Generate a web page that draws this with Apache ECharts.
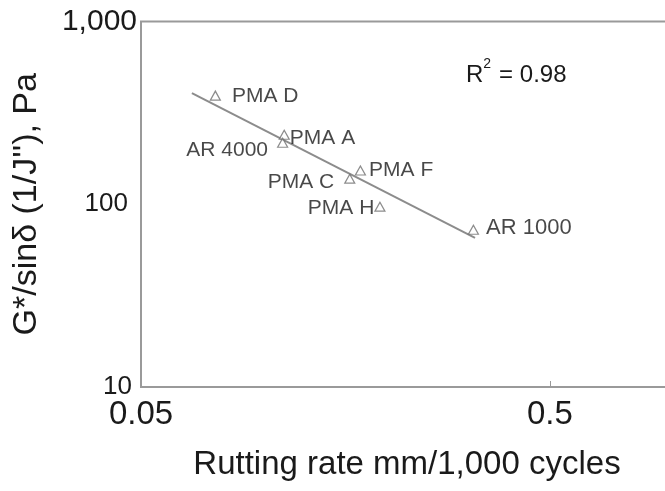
<!DOCTYPE html>
<html>
<head>
<meta charset="utf-8">
<script src="https://cdn.jsdelivr.net/npm/echarts@6/dist/echarts.min.js"></script>
<style>html,body{margin:0;padding:0;background:#fff;}#c{width:665px;height:491px;}</style>
</head>
<body>
<div id="c"></div>
<script>
// Data
const pointNames = ['PMA D', 'PMA A', 'AR 4000', 'PMA F', 'PMA C', 'PMA H', 'AR 1000'];
const rutRate = [0.076, 0.112, 0.111, 0.172, 0.162, 0.192, 0.325];
const gStar = [393, 240, 217, 153, 138, 97, 72.5];
// Fitted trend line end points
const trendRate = [0.0666, 0.328];
const trendG = [406, 65.4];
const xTickValues = [0.05, 0.5];
const yTickValues = [10, 100, 1000];

// label placement (style only)
const labelPlace = [
  {position: 'right', distance: 11, offset: [0, 1]},
  {position: 'right', distance: 0, offset: [0, 3]},
  {position: 'left', distance: 9, offset: [0, 7]},
  {position: 'right', distance: 3, offset: [0, 0]},
  {position: 'left', distance: 10, offset: [0, 4]},
  {position: 'left', distance: 0, offset: [0, 2]},
  {position: 'right', distance: 7, offset: [0, -2]}
];

const FONT = 'Liberation Sans, Arial, Helvetica, sans-serif';
const TXT = '#1a1a1a';

const chart = echarts.init(document.getElementById('c'), null, {renderer: 'canvas'});
chart.setOption({
  backgroundColor: '#fff',
  animation: false,
  textStyle: {fontFamily: FONT},
  title: {
    text: '{r|R}{s|2}{r|= 0.98}',
    left: 466, top: 57, padding: 0,
    textStyle: {
      fontWeight: 'normal',
      rich: {
        r: {fontSize: 24, color: TXT, fontFamily: FONT, fontWeight: 'normal', lineHeight: 30, verticalAlign: 'bottom'},
        s: {fontSize: 14, color: TXT, fontFamily: FONT, fontWeight: 'normal', lineHeight: 30, verticalAlign: 'top', padding: [0, 8, 0, 0]}
      }
    }
  },
  grid: {
    left: 141, top: 21.5, right: -8, bottom: 104,
    outerBoundsMode: 'none',
    show: true, borderColor: '#9a9a9a', borderWidth: 2, backgroundColor: '#fff'
  },
  xAxis: {
    type: 'log', logBase: 10, min: 0.05, max: 1,
    name: 'Rutting rate mm/1,000 cycles',
    nameLocation: 'middle', nameGap: 61,
    nameTextStyle: {fontSize: 33, color: TXT, fontFamily: FONT},
    axisLine: {show: false},
    splitLine: {show: false},
    minorTick: {show: false},
    axisTick: {show: true, inside: true, length: 6, lineStyle: {color: '#999', width: 1}, customValues: [0.5]},
    axisLabel: {
      customValues: xTickValues, fontSize: 33, color: TXT, margin: 11, fontFamily: FONT,
      formatter: v => (Math.abs(v - 0.05) < 1e-6 ? '0.05' : String(+v.toPrecision(3)))
    }
  },
  yAxis: {
    type: 'log', logBase: 10, min: 10, max: 1000,
    name: 'G*/sinδ (1/J\'\'), Pa',
    nameLocation: 'middle', nameGap: 97, nameRotate: 90,
    nameTextStyle: {fontSize: 34, color: TXT, fontFamily: FONT},
    axisLine: {show: false},
    splitLine: {show: false},
    axisTick: {show: false},
    axisLabel: {
      customValues: yTickValues, color: TXT, fontFamily: FONT, margin: 4,
      formatter: v => {
        const n = Math.round(v);
        if (n === 1000) return '{b|1,000}';
        if (n === 100) return '{c|100}';
        return '{d|' + n + '}';
      },
      rich: {
        b: {fontSize: 30, color: TXT, fontFamily: FONT},
        c: {fontSize: 26, color: TXT, fontFamily: FONT, padding: [0, 9, 0, 0]},
        d: {fontSize: 26, color: TXT, fontFamily: FONT, padding: [0, 5, 0, 0]}
      }
    }
  },
  series: [
    {
      type: 'line',
      data: trendRate.map((x, i) => [x, trendG[i]]),
      symbol: 'none',
      lineStyle: {color: '#8c8c8c', width: 2},
      z: 2
    },
    {
      type: 'scatter',
      symbol: 'triangle',
      symbolSize: [10, 9],
      itemStyle: {color: 'rgba(255,255,255,0.6)', borderColor: '#6f6f6f', borderWidth: 1.2},
      z: 3,
      data: rutRate.map((x, i) => ({
        value: [x, gStar[i]],
        name: pointNames[i],
        label: {
          show: true,
          formatter: pointNames[i],
          position: labelPlace[i].position,
          distance: labelPlace[i].distance,
          offset: labelPlace[i].offset,
          fontSize: i === 6 ? 22 : 21,
          color: TXT,
          fontFamily: FONT
        }
      }))
    }
  ]
});
</script>
</body>
</html>
